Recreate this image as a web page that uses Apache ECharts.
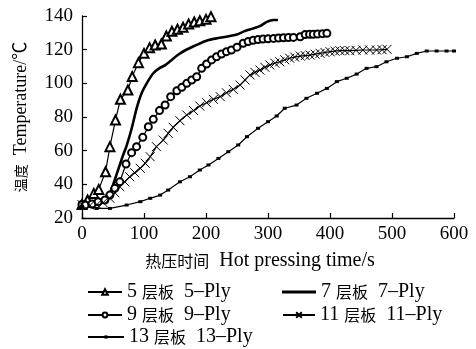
<!DOCTYPE html>
<html>
<head>
<meta charset="utf-8">
<script src="https://cdn.jsdelivr.net/npm/echarts@6/dist/echarts.min.js"></script>
<style>
html,body{margin:0;padding:0;background:#fff;}
#chart{width:476px;height:349px;}
</style>
</head>
<body>
<div id="chart"></div>
<script>
// ---- data ----
const seriesNames = ['5 层板  5–Ply', '7 层板  7–Ply', '9 层板  9–Ply', '11 层板  11–Ply', '13 层板  13–Ply'];
const xTicks = [0, 100, 200, 300, 400, 500, 600];
const yTicks = [20, 40, 60, 80, 100, 120, 140];

const ply5Time = [0, 9, 19, 27, 38, 45, 54, 62, 74, 81, 91, 100, 109, 118, 128, 136, 145, 154, 163, 172, 181, 190, 200, 208];
const ply5Temp = [28, 30.7, 34.6, 37, 47.5, 62.4, 78.2, 90.5, 96, 104, 112.3, 117.8, 121.2, 122.8, 123.4, 128.1, 130.9, 132.1, 133.3, 135.2, 136.4, 137.2, 138, 139.6];

const ply7Time = [0, 15, 30, 45, 55, 65, 72, 80, 88, 96, 106, 115, 125, 135, 145, 155, 166, 180, 192, 204, 217, 233, 250, 262, 275, 287, 298, 309, 316];
const ply7Temp = [27.5, 28, 30, 35, 45, 56, 63, 73, 85, 94, 101, 106, 109, 111, 114, 117, 119.5, 122, 124, 125.7, 126.7, 127.7, 129, 131, 132.5, 134, 136.5, 137.6, 137.6];

const ply9Time = [0, 5, 16, 26, 37, 45, 53, 61, 71, 80, 88, 98, 107, 115, 125, 134, 143, 153, 161, 169, 177, 185, 193, 201, 209, 217, 225, 233, 241, 250, 260, 268, 276, 284, 292, 300, 309, 317, 325, 333, 341, 352, 360, 367, 373, 380, 388, 395];
const ply9Temp = [28, 27.7, 28.3, 29.7, 30.7, 33.6, 37.6, 41.5, 52.1, 58.8, 62.4, 67.9, 74.2, 78.6, 83.8, 87.1, 92.1, 95.6, 97.6, 100, 102, 103.9, 108.9, 111.5, 113.9, 115.8, 117.4, 118.8, 119.8, 121.5, 123.8, 124.8, 125.6, 126, 126.3, 126.5, 126.7, 126.9, 127.1, 127.2, 127.3, 127.7, 129, 129.1, 129.1, 129.3, 129.5, 129.7];

const ply11Time = [0, 13, 24, 34, 45, 53, 61, 69, 77, 85, 94, 102, 110, 120, 131, 139, 147, 158, 169, 180, 190, 201, 212, 223, 233, 244, 255, 263, 271, 279, 287, 295, 303, 311, 319, 327, 335, 343, 352, 360, 368, 376, 384, 392, 400, 408, 416, 424, 432, 442, 453, 464, 475, 484, 492];
const ply11Temp = [28, 27.5, 28, 29.1, 31.7, 35, 38.6, 41.5, 44.5, 46.9, 49.5, 52.5, 56.4, 62.4, 66.3, 70.3, 73.9, 77.8, 81.2, 83.8, 86.5, 88.5, 90.5, 92.1, 94.4, 96.4, 99, 102, 105, 106.5, 107.9, 109.5, 110.9, 112, 112.8, 114, 114.9, 115.6, 116.2, 116.5, 116.8, 117.3, 117.8, 118.3, 118.8, 119.1, 119.4, 119.4, 119.4, 119.6, 119.8, 119.8, 119.8, 120, 120.2];

const ply13Time = [0, 24, 45, 72, 94, 110, 126, 139, 158, 174, 190, 204, 220, 236, 252, 266, 284, 300, 314, 327, 346, 362, 379, 395, 411, 427, 443, 459, 475, 491, 508, 524, 540, 556, 572, 588, 600];
const ply13Temp = [27, 25.7, 25.7, 27.7, 29.7, 31.7, 33.6, 36.6, 41.5, 44.5, 48.5, 51.5, 55.4, 59.4, 63.4, 68.3, 73.3, 77.2, 80.6, 85.2, 87.1, 91.1, 94.1, 97, 101, 103, 105.5, 108.9, 109.9, 112.8, 114.9, 115.8, 117.8, 119.2, 119.2, 119.2, 119.2];

// ---- chart ----
function zip(xs, ys) { return xs.map((x, i) => [x, ys[i]]); }
const LAT = 'Liberation Serif, Times New Roman, serif';
const CJK = 'Noto Sans CJK SC';
const rich = {
  l: { fontFamily: LAT + ', ' + CJK, fontSize: 20, color: '#000' },
  c: { fontFamily: CJK, fontSize: 16, color: '#000' }
};
const richY = {
  l: { fontFamily: LAT + ', ' + CJK, fontSize: 18, color: '#000' },
  c: { fontFamily: CJK, fontSize: 14, color: '#000' }
};
function legendFmt(name) {
  const m = name.match(/^(\d+) (层板)  (.*)$/);
  return '{l|' + m[1] + ' }{c|' + m[2] + '}{l|  ' + m[3] + '}';
}
const crossPath = 'path://M0,0L10,10M10,0L0,10';

const chart = echarts.init(document.getElementById('chart'), null, { renderer: 'canvas' });

const legendPos = [
  { left: 87, top: 282, w: 34, h: 7, icon: null },
  { left: 282, top: 282, w: 34, h: 3, icon: 'rect' },
  { left: 87, top: 305, w: 34, h: 6, icon: null },
  { left: 282, top: 305, w: 32, h: 7, icon: null },
  { left: 87, top: 327, w: 36, h: 4, icon: null }
];

const option = {
  animation: false,
  backgroundColor: '#fff',
  grid: { left: 82, top: 16, right: 22, bottom: 131, containLabel: false, outerBoundsMode: 'none' },
  xAxis: {
    type: 'value', min: xTicks[0], max: xTicks[xTicks.length - 1], interval: 100,
    axisLine: { lineStyle: { color: '#000', width: 1.3 } },
    axisTick: { inside: true, length: 5, lineStyle: { color: '#000', width: 1.2 } },
    splitLine: { show: false },
    axisLabel: { color: '#000', fontFamily: LAT, fontSize: 19, margin: 7 },
    name: '{c|热压时间}{l|  Hot pressing time/s}',
    nameLocation: 'middle', nameGap: 33,
    nameTextStyle: { rich: rich, padding: [0, 16, 0, 0] }
  },
  yAxis: {
    type: 'value', min: yTicks[0], max: yTicks[yTicks.length - 1], interval: 20,
    axisLine: { show: true, lineStyle: { color: '#000', width: 1.3 } },
    axisTick: { show: true, inside: true, length: 5, lineStyle: { color: '#000', width: 1.2 } },
    splitLine: { show: false },
    axisLabel: { color: '#000', fontFamily: LAT, fontSize: 19, margin: 9 },
    name: '{c|温度}{l|  Temperature/℃}',
    nameLocation: 'middle', nameGap: 52,
    nameTextStyle: { rich: richY }
  },
  legend: seriesNames.map((n, i) => ({
    data: [legendPos[i].icon ? { name: n, icon: legendPos[i].icon } : n],
    left: legendPos[i].left, top: legendPos[i].top, padding: 0,
    itemWidth: legendPos[i].w, itemHeight: legendPos[i].h, itemGap: 0,
    formatter: legendFmt,
    textStyle: { rich: rich, color: '#000' },
    selectedMode: false
  })),
  series: [
    {
      name: seriesNames[0], type: 'line', data: zip(ply5Time, ply5Temp),
      symbol: 'emptyTriangle', symbolSize: 9, showAllSymbol: true,
      lineStyle: { color: '#000', width: 1.2 },
      itemStyle: { color: '#000', borderColor: '#000', borderWidth: 1 }
    },
    {
      name: seriesNames[1], type: 'line', data: zip(ply7Time, ply7Temp),
      symbol: 'none', smooth: 0.2,
      lineStyle: { color: '#000', width: 2.6 },
      itemStyle: { color: '#000' }
    },
    {
      name: seriesNames[2], type: 'line', data: zip(ply9Time, ply9Temp),
      symbol: 'emptyCircle', symbolSize: 7, showAllSymbol: true,
      lineStyle: { color: '#000', width: 1.2 },
      itemStyle: { color: '#000', borderColor: '#000', borderWidth: 1 }
    },
    {
      name: seriesNames[3], type: 'line', data: zip(ply11Time, ply11Temp),
      symbol: crossPath, symbolSize: 9, showAllSymbol: true,
      lineStyle: { color: '#000', width: 1.2 },
      itemStyle: { color: '#000', borderColor: '#000', borderWidth: 1 }
    },
    {
      name: seriesNames[4], type: 'line', data: zip(ply13Time, ply13Temp),
      symbol: 'rect', symbolSize: [4, 3], showAllSymbol: true,
      lineStyle: { color: '#000', width: 1.2 },
      itemStyle: { color: '#000' }
    }
  ]
};
chart.setOption(option);
</script>
</body>
</html>
